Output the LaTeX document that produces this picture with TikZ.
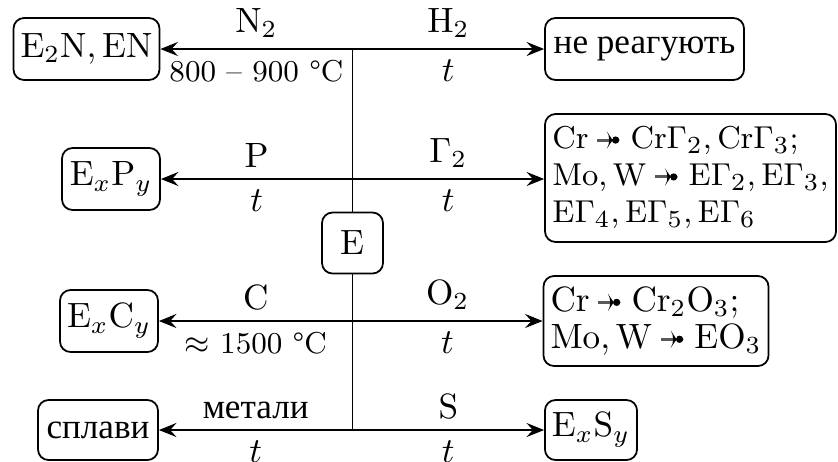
\documentclass[tikz,border=0pt]{standalone}
\usepackage[no-math]{fontspec}
\newfontfamily\cyr{Liberation Serif}
\usetikzlibrary{arrows.meta,positioning}
\newcommand{\rarr}{\kern2pt\hbox{\tikz[baseline=-2.5pt]{%
  \draw[black!65, line width=0.85pt] (0,0) -- (4.6pt,0);
  \fill (3.2pt,1.8pt) -- (8pt,0) -- (3.2pt,-1.8pt) -- (4.4pt,0) -- cycle;}}\kern1.5pt}

\begin{document}
\begin{tikzpicture}[
    box/.style={draw, rounded corners=3pt, line width=0.5pt, inner xsep=2pt, inner ysep=3pt,
      align=left, font=\fontsize{10pt}{10.5pt}\selectfont},
    arr/.style={-{Stealth[length=5pt,width=4pt,inset=1.8pt]}, line width=0.45pt},
    lbl/.style={midway, inner sep=3pt},
    temp/.style={lbl, font=\fontsize{8.6pt}{10pt}\selectfont}]
  \useasboundingbox (0,0) rectangle (8.38,4.61);
  % centre
  \node[box, minimum width=0.61cm, minimum height=0.61cm] (e) at (3.525,2.18) {E};
  % left column
  \node[box, minimum width=1.43cm, minimum height=0.62cm] (nitr) at (0.865,4.12) {$\mathrm{E_2N, EN}$};
  \node[box, minimum width=0.98cm, minimum height=0.62cm] (phos) at (1.11,2.82) {$\mathrm{E}_x\mathrm{P}_y$};
  \node[box, minimum width=0.98cm, minimum height=0.62cm] (carb) at (1.09,1.40) {$\mathrm{E}_x\mathrm{C}_y$};
  \node[box, minimum width=1.20cm, minimum height=0.60cm] (alloy) at (0.98,0.31) {\cyr сплави};
  % right column
  \node[box, minimum width=1.99cm, minimum height=0.62cm] (hydr) at (6.445,4.12) {\cyr не реагують};
  \node[box, minimum width=2.91cm, minimum height=1.28cm,
    font=\fontsize{9.5pt}{10.5pt}\selectfont] (hal) at (6.905,2.83)
    {$\mathrm{Cr}\rarr\mathrm{Cr\Gamma_2, Cr\Gamma_3;}$\\
     $\mathrm{Mo, W}\rarr\mathrm{E\Gamma_2, E\Gamma_3,}$\\
     $\mathrm{E\Gamma_4, E\Gamma_5, E\Gamma_6}$};
  \node[box, minimum width=2.22cm, minimum height=0.90cm] (oxi) at (6.56,1.40)
    {$\mathrm{Cr}\rarr\mathrm{Cr_2O_3;}$\\
     $\mathrm{Mo, W}\rarr\mathrm{EO_3}$};
  \node[box, minimum width=0.92cm, minimum height=0.60cm] (sulf) at (5.91,0.31) {$\mathrm{E}_x\mathrm{S}_y$};
  % junctions on the trunk
  \coordinate (j1) at (e |- nitr);
  \coordinate (j2) at (e |- phos);
  \coordinate (j3) at (e |- carb);
  \coordinate (j4) at (e |- alloy);
  \draw[line width=0.45pt] (j1) -- (e) -- (j4);
  % branches
  \draw[arr] (j1) -- (nitr) node[lbl, above] {$\mathrm{N_2}$} node[temp, below] {800 -- 900 °C};
  \draw[arr] (j1) -- (hydr) node[lbl, above] {$\mathrm{H_2}$} node[lbl, below] {$t$};
  \draw[arr] (j2) -- (phos) node[lbl, above] {$\mathrm{P}$} node[lbl, below] {$t$};
  \draw[arr] (j2) -- (hal.west |- j2) node[lbl, above] {$\Gamma_2$} node[lbl, below] {$t$};
  \draw[arr] (j3) -- (carb) node[lbl, above] {$\mathrm{C}$} node[temp, below] {$\approx$ 1500 °C};
  \draw[arr] (j3) -- (oxi) node[lbl, above] {$\mathrm{O_2}$} node[lbl, below] {$t$};
  \draw[arr] (j4) -- (alloy) node[lbl, above] {\cyr метали} node[lbl, below] {$t$};
  \draw[arr] (j4) -- (sulf) node[lbl, above] {$\mathrm{S}$} node[lbl, below] {$t$};
\end{tikzpicture}
\end{document}
